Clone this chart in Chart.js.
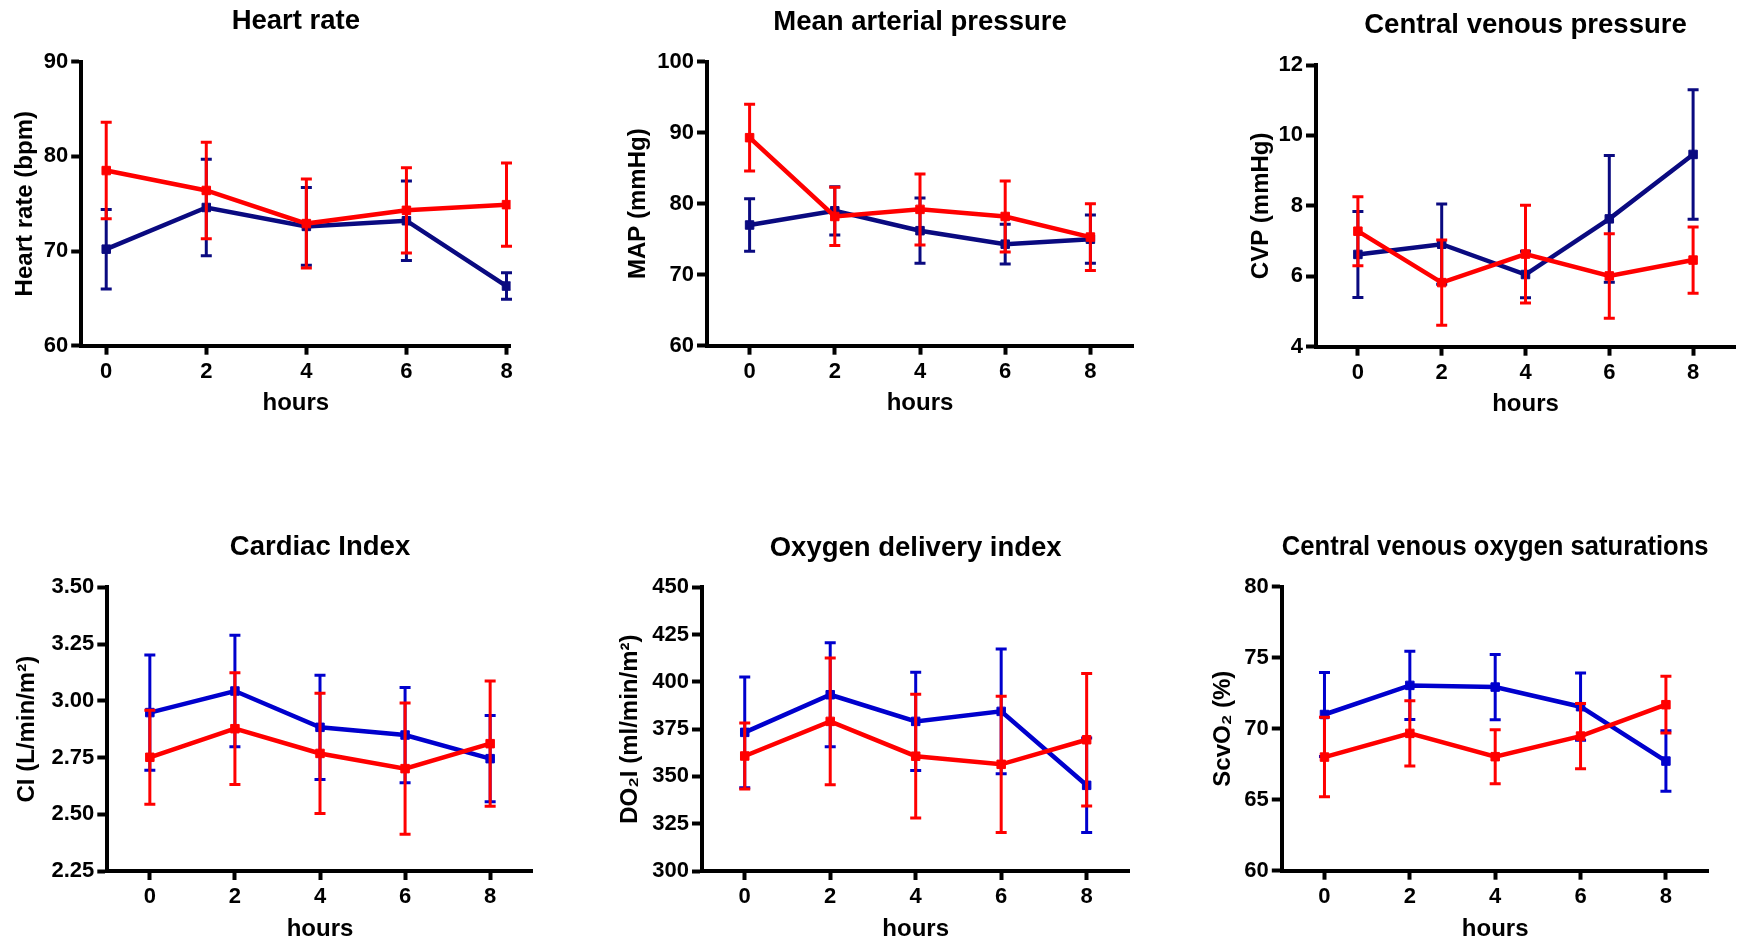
<!DOCTYPE html>
<html>
<head>
<meta charset="utf-8">
<script src="https://cdn.jsdelivr.net/npm/chart.js@4/dist/chart.umd.min.js"></script>
<style>
  html, body { margin: 0; padding: 0; background: #fff; }
  #board { position: relative; width: 1742px; height: 941px; overflow: hidden; background: #fff; }
  #board canvas { position: absolute; }
</style>
</head>
<body>
<div id="board"></div>
<script>
// Sampling times (hours)
const hours = [0, 2, 4, 6, 8];

// Heart rate (bpm): mean and error for each group
const hrGroupA = [70.2, 74.6, 72.6, 73.2, 66.3];
const hrGroupAErr = [4.2, 5.1, 4.1, 4.2, 1.4];
const hrGroupB = [78.5, 76.4, 72.9, 74.3, 74.9];
const hrGroupBErr = [5.1, 5.1, 4.7, 4.5, 4.4];

// Mean arterial pressure (mmHg)
const mapGroupA = [77.0, 79.0, 76.2, 74.3, 75.0];
const mapGroupAErr = [3.7, 3.4, 4.6, 2.8, 3.4];
const mapGroupB = [89.3, 78.2, 79.2, 78.2, 75.3];
const mapGroupBErr = [4.7, 4.1, 5.0, 5.0, 4.7];

// Central venous pressure (mmHg)
const cvpGroupA = [6.62, 6.91, 6.05, 7.63, 9.46];
const cvpGroupAErr = [1.22, 1.14, 0.66, 1.80, 1.84];
const cvpGroupB = [7.28, 5.82, 6.63, 6.01, 6.46];
const cvpGroupBErr = [0.98, 1.21, 1.39, 1.20, 0.94];

// Cardiac index (L/min/m2)
const ciGroupA = [2.948, 3.043, 2.883, 2.849, 2.745];
const ciGroupAErr = [0.254, 0.246, 0.230, 0.210, 0.190];
const ciGroupB = [2.751, 2.877, 2.768, 2.701, 2.811];
const ciGroupBErr = [0.207, 0.246, 0.265, 0.289, 0.276];

// Oxygen delivery index (ml/min/m2)
const do2iGroupA = [373.3, 393.2, 379.1, 384.4, 345.3];
const do2iGroupAErr = [29.3, 27.5, 26.0, 33.0, 25.0];
const do2iGroupB = [360.8, 379.1, 360.7, 356.4, 369.4];
const do2iGroupBErr = [17.4, 33.5, 32.7, 36.0, 35.0];

// Central venous oxygen saturation (%)
const scvo2GroupA = [71.0, 73.05, 72.93, 71.55, 67.72];
const scvo2GroupAErr = [2.95, 2.4, 2.3, 2.37, 2.13];
const scvo2GroupB = [68.0, 69.67, 68.03, 69.48, 71.69];
const scvo2GroupBErr = [2.8, 2.3, 1.9, 2.3, 2.0];

// Axis ranges and tick steps
const hrRange = [60, 90, 10];
const mapRange = [60, 100, 10];
const cvpRange = [4, 12, 2];
const ciRange = [2.25, 3.5, 0.25];
const do2iRange = [300, 450, 25];
const scvo2Range = [60, 80, 5];

const FONT = "'Liberation Sans', Arial, Helvetica, sans-serif";
const TITLE_SIZE = 27.5, AXIS_TITLE_SIZE = 24, TICK_SIZE = 22;
const RED = '#ff0000';
const NAVY = '#0a0a80';
const BLUE = '#0000cd';

// Vertical error bars, drawn just before each dataset's own line
const errorBars = {
  id: 'errorBars',
  beforeDatasetDraw(chart, args) {
    const ds = chart.data.datasets[args.index];
    if (!ds.errors) return;
    const xs = chart.scales.x, ys = chart.scales.y;
    const ctx = chart.ctx;
    const cap = 5.5;
    ctx.save();
    ctx.strokeStyle = ds.borderColor;
    ctx.lineWidth = 3;
    ctx.lineCap = 'butt';
    ds.data.forEach((p, i) => {
      const px = xs.getPixelForValue(p.x);
      const top = ys.getPixelForValue(p.y + ds.errors[i]);
      const bot = ys.getPixelForValue(p.y - ds.errors[i]);
      ctx.beginPath();
      ctx.moveTo(px, top); ctx.lineTo(px, bot);
      ctx.moveTo(px - cap, top); ctx.lineTo(px + cap, top);
      ctx.moveTo(px - cap, bot); ctx.lineTo(px + cap, bot);
      ctx.stroke();
    });
    ctx.restore();
  }
};

const panels = [
  { title: 'Heart rate', yLabel: 'Heart rate (bpm)', a: hrGroupA, aErr: hrGroupAErr, b: hrGroupB, bErr: hrGroupBErr,
    range: hrRange, dec: 0, blue: NAVY, xMin: -0.5, xMax: 8.08,
    cell: [0, 0, 575, 470], L: 81.2, R: 510.5, T: 61.7, B: 345.7, titleMid: 21.5, yTitleX: 25, xTitleMid: 403.5 },
  { title: 'Mean arterial pressure', yLabel: 'MAP (mmHg)', a: mapGroupA, aErr: mapGroupAErr, b: mapGroupB, bErr: mapGroupBErr,
    range: mapRange, dec: 0, blue: NAVY, xMin: -1, xMax: 9,
    cell: [575, 0, 585, 470], L: 707, R: 1133, T: 61.7, B: 345.7, titleMid: 22, yTitleX: 638, xTitleMid: 403.5 },
  { title: 'Central venous pressure', yLabel: 'CVP (mmHg)', a: cvpGroupA, aErr: cvpGroupAErr, b: cvpGroupB, bErr: cvpGroupBErr,
    range: cvpRange, dec: 0, blue: NAVY, xMin: -1, xMax: 9,
    cell: [1160, 0, 582, 470], L: 1316, R: 1738.6, T: 65, B: 346.7, titleMid: 25.5, yTitleX: 1261, xTitleMid: 404.5 },
  { title: 'Cardiac Index', yLabel: 'CI (L/min/m²)', a: ciGroupA, aErr: ciGroupAErr, b: ciGroupB, bErr: ciGroupBErr,
    range: ciRange, dec: 2, blue: BLUE, xMin: -1, xMax: 9,
    cell: [0, 470, 575, 471], L: 107.3, R: 532.7, T: 587.3, B: 871, titleMid: 547.5, yTitleX: 27, xTitleMid: 929.5 },
  { title: 'Oxygen delivery index', yLabel: 'DO₂I (ml/min/m²)', a: do2iGroupA, aErr: do2iGroupAErr, b: do2iGroupB, bErr: do2iGroupBErr,
    range: do2iRange, dec: 0, blue: BLUE, xMin: -1, xMax: 9,
    cell: [575, 470, 585, 471], L: 702, R: 1129.4, T: 587.3, B: 871, titleMid: 548, yTitleX: 630, xTitleMid: 929.5 },
  { title: 'Central venous oxygen saturations', yLabel: 'ScvO₂ (%)', a: scvo2GroupA, aErr: scvo2GroupAErr, b: scvo2GroupB, bErr: scvo2GroupBErr,
    range: scvo2Range, dec: 0, blue: BLUE, xMin: -1, xMax: 9,
    cell: [1160, 470, 582, 471], L: 1281.8, R: 1708.6, T: 586.7, B: 870.7, titleMid: 547, yTitleX: 1223, xTitleMid: 929.5 }
];

const board = document.getElementById('board');

function series(values, errs, color, order) {
  return {
    data: hours.map((h, i) => ({ x: h, y: values[i] })),
    errors: errs,
    borderColor: color,
    backgroundColor: color,
    borderWidth: 4.5,
    pointStyle: 'rect',
    pointRadius: 6,
    pointBorderWidth: 1,
    pointHoverRadius: 6,
    tension: 0,
    order: order
  };
}

panels.forEach(p => {
  const [cx, cy, cw, ch] = p.cell;
  const canvas = document.createElement('canvas');
  canvas.width = cw; canvas.height = ch;
  canvas.style.left = cx + 'px'; canvas.style.top = cy + 'px';
  canvas.style.width = cw + 'px'; canvas.style.height = ch + 'px';
  board.appendChild(canvas);

  const axTitleHalf = AXIS_TITLE_SIZE * 0.6;
  const titleLine = TITLE_SIZE * 1.2;
  const padLeft = p.yTitleX - cx - axTitleHalf;
  const yWidth = p.L - cx - padLeft;
  const padRight = cx + cw - p.R;
  const padTop = p.titleMid - cy - titleLine / 2;
  const titleGap = p.T - cy - padTop - titleLine;
  const xBottom = p.xTitleMid + axTitleHalf;
  const xHeight = xBottom - p.B;
  const padBottom = cy + ch - xBottom;

  const tickFont = { family: FONT, size: TICK_SIZE, weight: 'bold' };
  const axisTitleFont = { family: FONT, size: AXIS_TITLE_SIZE, weight: 'bold' };

  new Chart(canvas, {
    type: 'line',
    data: {
      datasets: [
        series(p.a, p.aErr, p.blue, 2),
        series(p.b, p.bErr, RED, 1)
      ]
    },
    options: {
      responsive: false,
      animation: false,
      devicePixelRatio: 1,
      events: [],
      layout: { padding: { left: padLeft, right: padRight, top: padTop, bottom: padBottom } },
      plugins: {
        legend: { display: false },
        tooltip: { enabled: false },
        title: {
          display: true,
          text: p.title,
          fullSize: false,
          color: '#000',
          font: { family: FONT, size: TITLE_SIZE, weight: 'bold', lineHeight: 1.2 },
          padding: { top: 0, bottom: titleGap }
        }
      },
      scales: {
        x: {
          type: 'linear',
          min: p.xMin, max: p.xMax,
          afterBuildTicks: s => { s.ticks = hours.map(v => ({ value: v })); },
          afterFit: s => { s.height = xHeight; },
          grid: { display: true, drawOnChartArea: false, drawTicks: true, tickLength: 9, tickWidth: 4, color: '#000' },
          border: { display: true, width: 4, color: '#000' },
          ticks: { color: '#000', font: tickFont, padding: 4, maxRotation: 0, autoSkip: false },
          title: { display: true, text: 'hours', color: '#000', font: axisTitleFont, padding: 0 }
        },
        y: {
          type: 'linear',
          min: p.range[0], max: p.range[1],
          ticks: { stepSize: p.range[2], color: '#000', font: tickFont, padding: 3,
                   callback: v => Number(v).toFixed(p.dec) },
          afterFit: s => { s.width = yWidth; },
          grid: { display: true, drawOnChartArea: false, drawTicks: true, tickLength: 10, tickWidth: 4, color: '#000' },
          border: { display: true, width: 4, color: '#000' },
          title: { display: true, text: p.yLabel, color: '#000', font: axisTitleFont, padding: 0 }
        }
      }
    },
    plugins: [errorBars]
  });
});
</script>
</body>
</html>
